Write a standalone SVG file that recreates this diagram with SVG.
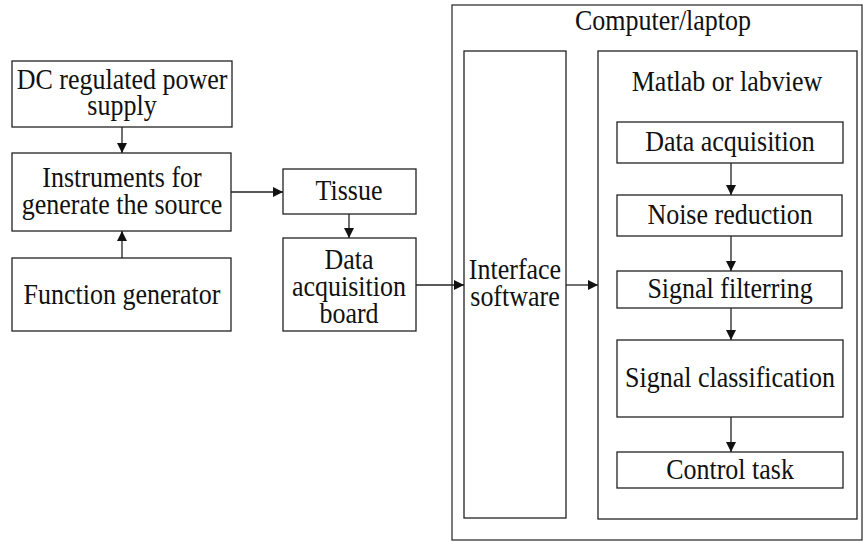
<svg xmlns="http://www.w3.org/2000/svg" width="863" height="542" viewBox="0 0 863 542">
  <style>
    .box { fill: #fff; stroke: #222; stroke-width: 1.3; }
    .frame { fill: none; stroke: #333; stroke-width: 1.3; }
    .lbl { font-family: 'Liberation Serif', 'Times New Roman', serif; font-size: 26px; fill: #111; text-anchor: middle; }
    .edge { fill: none; stroke: #222; stroke-width: 1.3; }
  </style>
  <defs>
    <marker id="arrow" viewBox="0 0 10 10" refX="10" refY="5" markerWidth="10" markerHeight="10" markerUnits="userSpaceOnUse" orient="auto">
      <path d="M0,0 L10,5 L0,10 Z" fill="#111"/>
    </marker>
  </defs>

  <rect width="863" height="542" fill="#fff"/>

  <!-- labels use a slightly tall (1:1.15) letter shape -->
  <!-- computer / laptop container -->
  <g id="computer">
    <rect class="frame" x="452" y="5" width="410" height="535"/>
    <text class="lbl" transform="translate(663 30) scale(1 1.12)">Computer/laptop</text>
  </g>

  <g id="interface">
    <rect class="box" x="464" y="51" width="102" height="467"/>
    <text class="lbl" transform="translate(515 279) scale(1 1.15)">Interface</text>
    <text class="lbl" transform="translate(515 306) scale(1 1.15)">software</text>
  </g>

  <g id="matlab">
    <rect class="box" x="598" y="51" width="259" height="468"/>
    <text class="lbl" transform="translate(727 91) scale(1 1.15)">Matlab or labview</text>
  </g>

  <g id="dc-supply">
    <rect class="box" x="12" y="61" width="220" height="66"/>
    <text class="lbl" transform="translate(122 89) scale(1 1.15)">DC regulated power</text>
    <text class="lbl" transform="translate(122 115) scale(1 1.15)">supply</text>
  </g>

  <g id="instruments">
    <rect class="box" x="12" y="153" width="219" height="78"/>
    <text class="lbl" transform="translate(122 187) scale(1 1.15)">Instruments for</text>
    <text class="lbl" transform="translate(122 214) scale(1 1.15)">generate the source</text>
  </g>

  <g id="function-generator">
    <rect class="box" x="12" y="258" width="219" height="73"/>
    <text class="lbl" transform="translate(122 304) scale(1 1.15)">Function generator</text>
  </g>

  <g id="tissue">
    <rect class="box" x="283" y="169" width="133" height="45"/>
    <text class="lbl" transform="translate(349 200) scale(1 1.15)">Tissue</text>
  </g>

  <g id="daq-board">
    <rect class="box" x="283" y="238" width="133" height="93"/>
    <text class="lbl" transform="translate(349 269) scale(1 1.15)">Data</text>
    <text class="lbl" transform="translate(349 296) scale(1 1.15)">acquisition</text>
    <text class="lbl" transform="translate(349 323) scale(1 1.15)">board</text>
  </g>

  <g id="data-acquisition">
    <rect class="box" x="617" y="122" width="226" height="41"/>
    <text class="lbl" transform="translate(730 151) scale(1 1.15)">Data acquisition</text>
  </g>

  <g id="noise-reduction">
    <rect class="box" x="617" y="195" width="225" height="41"/>
    <text class="lbl" transform="translate(730 224) scale(1 1.15)">Noise reduction</text>
  </g>

  <g id="signal-filtering">
    <rect class="box" x="617" y="271" width="225" height="37"/>
    <text class="lbl" transform="translate(730 298) scale(1 1.15)">Signal filterring</text>
  </g>

  <g id="signal-classification">
    <rect class="box" x="617" y="340" width="226" height="77"/>
    <text class="lbl" transform="translate(730 387) scale(1 1.15)">Signal classification</text>
  </g>

  <g id="control-task">
    <rect class="box" x="617" y="452" width="226" height="36"/>
    <text class="lbl" transform="translate(730 479) scale(1 1.15)">Control task</text>
  </g>

  <!-- connectors -->
  <g id="connectors">
    <line class="edge" x1="122" y1="127" x2="122" y2="153" marker-end="url(#arrow)"/>
    <line class="edge" x1="122" y1="258" x2="122" y2="231" marker-end="url(#arrow)"/>
    <line class="edge" x1="231" y1="192" x2="283" y2="192" marker-end="url(#arrow)"/>
    <line class="edge" x1="349" y1="214" x2="349" y2="238" marker-end="url(#arrow)"/>
    <line class="edge" x1="416" y1="285" x2="464" y2="285" marker-end="url(#arrow)"/>
    <line class="edge" x1="566" y1="285" x2="598" y2="285" marker-end="url(#arrow)"/>
    <line class="edge" x1="731" y1="163" x2="731" y2="195" marker-end="url(#arrow)"/>
    <line class="edge" x1="731" y1="236" x2="731" y2="271" marker-end="url(#arrow)"/>
    <line class="edge" x1="731" y1="308" x2="731" y2="340" marker-end="url(#arrow)"/>
    <line class="edge" x1="731" y1="417" x2="731" y2="452" marker-end="url(#arrow)"/>
  </g>
</svg>
